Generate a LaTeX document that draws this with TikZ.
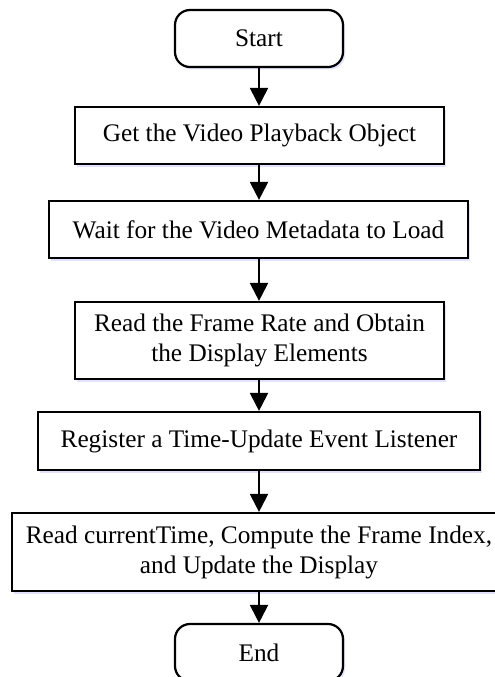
\documentclass[tikz,border=0pt]{standalone}
\usepackage{fontspec}
\setmainfont{Liberation Serif}
\usetikzlibrary{arrows.meta,shadows}

\tikzset{
  flowline/.style={line width=2.2pt, draw=black},
  procbox/.style={flowline, rectangle, fill=white, inner sep=0pt, align=center,
    font=\fontsize{25.3}{30}\selectfont,
    drop shadow={shadow xshift=2pt, shadow yshift=-2.5pt,
      fill=blue!25!white, opacity=0.45}},
  termbox/.style={procbox, rounded corners=15pt},
  flowarrow/.style={line width=2.2pt, -{Triangle[length=18pt,width=18pt]}},
}

\begin{document}
\begin{tikzpicture}[x=1pt, y=-1pt]
  \clip (0,0) rectangle (495,677);

  \node[termbox, minimum width=168pt, minimum height=57pt] (start) at (259,38.5) {Start};
  \node[procbox, minimum width=369pt, minimum height=57pt] (get) at (259.5,135.5)
    {Get the Video Playback Object};
  \node[procbox, minimum width=419pt, minimum height=57pt] (wait) at (258.5,229.5)
    {Wait for the Video Metadata to Load};
  \node[procbox, minimum width=369pt, minimum height=77pt] (rate) at (259.5,340.5)
    {Read the Frame Rate and Obtain\\the Display Elements};
  \node[procbox, minimum width=442pt, minimum height=58pt] (reg) at (259,441)
    {Register a Time-Update Event Listener};
  \node[procbox, minimum width=494pt, minimum height=78pt] (upd) at (259,552)
    {Read currentTime, Compute the Frame Index,\\and Update the Display};
  \node[termbox, minimum width=168pt, minimum height=57pt] (end) at (259,652.5) {End};

  \draw[flowarrow] (start) -- (start |- get.north);
  \draw[flowarrow] (get.south -| start) -- (start |- wait.north);
  \draw[flowarrow] (wait.south -| start) -- (start |- rate.north);
  \draw[flowarrow] (rate.south -| start) -- (start |- reg.north);
  \draw[flowarrow] (reg.south -| start) -- (start |- upd.north);
  \draw[flowarrow] (upd.south -| start) -- (end);
\end{tikzpicture}
\end{document}
